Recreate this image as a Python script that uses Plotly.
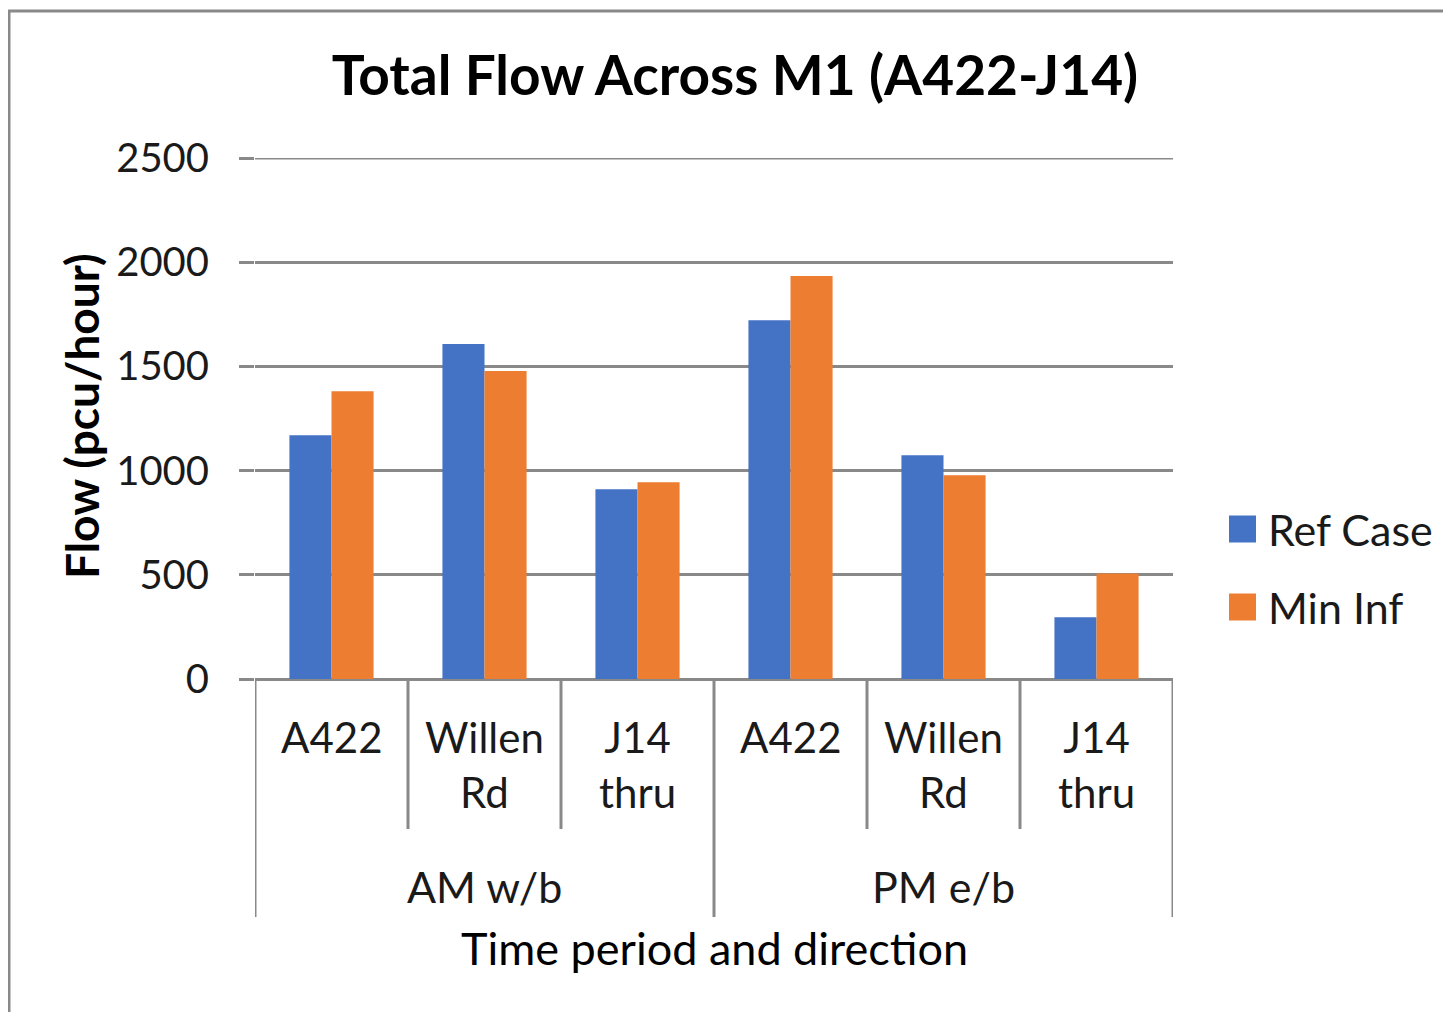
import plotly.graph_objects as go

# ---- data ----
groups = ["AM w/b", "AM w/b", "AM w/b", "PM e/b", "PM e/b", "PM e/b"]
sites = ["A422", "Willen<br>Rd", "J14<br>thru", "A422", "Willen<br>Rd", "J14<br>thru"]
series_names = ["Ref Case", "Min Inf"]
ref_case = [1170, 1607, 910, 1722, 1074, 296]
min_inf = [1381, 1478, 944, 1934, 978, 506]
y_ticks = [0, 500, 1000, 1500, 2000, 2500]

colors = ["#4472C4", "#ED7D31"]
grid = "#898989"
FONT = "Lato, 'Open Sans', sans-serif"
txt = "#1a1a1a"

idx = list(range(len(sites)))

fig = go.Figure()
for name, vals, c in zip(series_names, [ref_case, min_inf], colors):
    fig.add_trace(go.Bar(x=idx, y=vals, name=name, marker=dict(color=c, line=dict(width=0)),
                         showlegend=False))

# page geometry (page body has an 8px margin)
OFF = 8
PW, PH = 1451, 1020
W, H = PW - 2 * OFF, PH - 2 * OFF
# desired plot area in page pixels
PX0, PX1, PY0, PY1 = 255, 1173, 158, 679
L, T = PX0 - OFF, PY0 - OFF
R, B = W - (PX1 - OFF), H - (PY1 - OFF)
pw, ph = PX1 - PX0, PY1 - PY0

def px_x(p):
    return (p - PX0) / pw

def px_y(p):
    return (PY1 - p) / ph

shapes = []
annotations = []

line = dict(color=grid, width=3)

# top gridline (plotly drops the grid line at the exact range edge)
shapes.append(dict(type="line", xref="paper", yref="y", x0=0, x1=1, y0=y_ticks[-1], y1=y_ticks[-1],
                   line=line, layer="below"))

# category dividers
shapes.append(dict(type="line", xref="x", yref="paper", x0=-0.5, x1=-0.5, y0=0, y1=px_y(917), line=line))
shapes.append(dict(type="line", xref="x", yref="paper", x0=len(idx) - 0.5, x1=len(idx) - 0.5,
                   y0=0, y1=px_y(917), line=line))
for i in range(len(idx) - 1):
    xb = i + 0.5
    long = groups[i] != groups[i + 1]
    shapes.append(dict(type="line", xref="x", yref="paper", x0=xb, x1=xb, y0=0,
                       y1=px_y(917) if long else px_y(829), line=line))

# inner labels
for i, s in zip(idx, sites):
    annotations.append(dict(x=i, y=px_y(710), xref="x", yref="paper", text=s, showarrow=False,
                            xanchor="center", yanchor="top", align="center",
                            font=dict(family=FONT, size=42, color=txt)))
# group labels
seen = []
for g in groups:
    if g not in seen:
        seen.append(g)
for g in seen:
    members = [i for i in idx if groups[i] == g]
    annotations.append(dict(x=sum(members) / len(members), y=px_y(886), xref="x", yref="paper",
                            text=g, showarrow=False, xanchor="center", yanchor="middle",
                            font=dict(family=FONT, size=43, color=txt)))
# x axis title
annotations.append(dict(x=0.5, y=px_y(948), xref="paper", yref="paper", text="Time period and direction",
                        showarrow=False, xanchor="center", yanchor="middle",
                        font=dict(family=FONT, size=45, color="#000000")))

# y axis title
annotations.append(dict(x=px_x(81), y=px_y(416), xref="paper", yref="paper", text="<b>Flow (pcu/hour)</b>",
                        showarrow=False, xanchor="center", yanchor="middle", textangle=-90,
                        font=dict(family=FONT, size=46, color="#000000")))

# legend (manual, large swatches)
leg_y = [529, 607]
for name, c, yc in zip(series_names, colors, leg_y):
    shapes.append(dict(type="rect", xref="paper", yref="paper", x0=px_x(1229), x1=px_x(1256),
                       y0=px_y(yc - 13.5), y1=px_y(yc + 13.5), fillcolor=c, line=dict(width=0)))
    annotations.append(dict(x=px_x(1266), y=px_y(yc), xref="paper", yref="paper", text=name,
                            showarrow=False, xanchor="left", yanchor="middle",
                            font=dict(family=FONT, size=43, color=txt)))

# outer chart border
shapes.append(dict(type="rect", xref="paper", yref="paper", x0=px_x(9), x1=px_x(1500),
                   y0=px_y(1060), y1=px_y(11), line=dict(color=grid, width=3), fillcolor="rgba(0,0,0,0)"))

fig.update_layout(
    width=W, height=H,
    margin=dict(l=L, r=R, t=T, b=B),
    paper_bgcolor="white", plot_bgcolor="white",
    barmode="group", bargap=0.45, bargroupgap=0,
    title=dict(text="<b>Total Flow Across M1 (A422-J14)</b>", x=(735 - OFF) / W,
               xanchor="center", y=1 - (76 - OFF) / H, yanchor="middle", yref="container",
               font=dict(family=FONT, size=55, color="#000000")),
    xaxis=dict(range=[-0.5, len(idx) - 0.5], showticklabels=False, ticks="", showgrid=False,
               zeroline=False, showline=False, fixedrange=True),
    yaxis=dict(range=[0, y_ticks[-1]], tickvals=y_ticks, ticktext=[str(v) for v in y_ticks],
               showgrid=True, gridcolor=grid, gridwidth=3, zeroline=True, zerolinecolor=grid,
               zerolinewidth=3, showline=False, ticks="outside", ticklen=15, tickcolor=grid,
               tickwidth=3, ticklabelstandoff=22,
               tickfont=dict(family=FONT, size=40, color=txt)),
    shapes=shapes,
    annotations=annotations,
)

fig.write_html("out.html")
